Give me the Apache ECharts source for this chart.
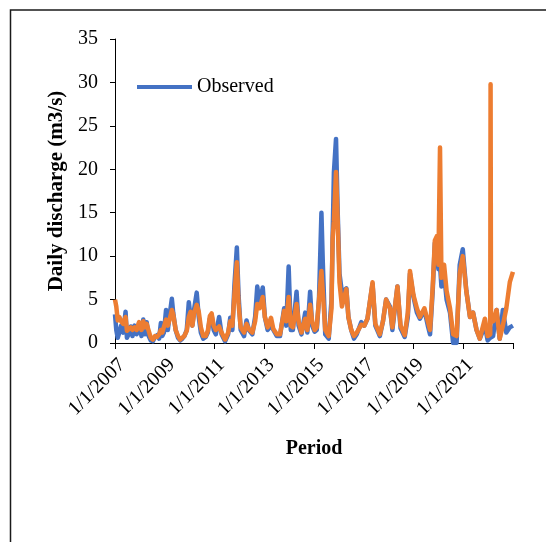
<!DOCTYPE html>
<html>
<head>
<meta charset="utf-8">
<script src="https://cdn.jsdelivr.net/npm/echarts@6/dist/echarts.min.js"></script>
<style>
  html, body { margin: 0; padding: 0; background: #fff; }
  #chart { width: 546px; height: 542px; }
</style>
</head>
<body>
<div id="chart"></div>
<script>
const dates = [
  '2007-01-01', '2007-01-20', '2007-02-10', '2007-03-05', '2007-04-01', '2007-05-01', '2007-06-05', '2007-06-25',
  '2007-07-20', '2007-08-20', '2007-09-15', '2007-10-15', '2007-11-15', '2007-12-20', '2008-01-25', '2008-02-20',
  '2008-03-15', '2008-04-10', '2008-05-10', '2008-06-10', '2008-07-10', '2008-08-10', '2008-09-10', '2008-10-10',
  '2008-11-05', '2008-11-25', '2008-12-20', '2009-01-20', '2009-02-15', '2009-03-10', '2009-04-15', '2009-05-05',
  '2009-06-10', '2009-07-15', '2009-08-15', '2009-09-15', '2009-10-15', '2009-11-20', '2009-12-20', '2010-01-15',
  '2010-02-10', '2010-03-10', '2010-04-15', '2010-05-15', '2010-06-15', '2010-07-20', '2010-08-25', '2010-09-25',
  '2010-10-25', '2010-11-20', '2010-12-20', '2011-01-20', '2011-03-10', '2011-04-15', '2011-06-05', '2011-07-20',
  '2011-08-20', '2011-09-20', '2011-10-20', '2011-11-25', '2011-12-20', '2012-01-20', '2012-03-10', '2012-04-15',
  '2012-05-20', '2012-07-10', '2012-08-20', '2012-09-20', '2012-10-25', '2012-12-10', '2013-01-10', '2013-02-20',
  '2013-04-10', '2013-05-15', '2013-07-05', '2013-08-20', '2013-10-20', '2013-11-20', '2013-12-25', '2014-01-25',
  '2014-02-25', '2014-04-20', '2014-05-20', '2014-07-01', '2014-08-25', '2014-09-25', '2014-11-05', '2014-12-05',
  '2015-01-10', '2015-02-10', '2015-03-15', '2015-04-20', '2015-05-10', '2015-06-15', '2015-08-05', '2015-09-15',
  '2015-10-01', '2015-10-20', '2015-11-20', '2015-12-15', '2016-01-10', '2016-02-15', '2016-04-20', '2016-05-20',
  '2016-07-01', '2016-08-10', '2016-09-20', '2016-11-25', '2017-01-10', '2017-02-25', '2017-05-10', '2017-06-20',
  '2017-08-25', '2017-10-10', '2017-11-25', '2018-01-20', '2018-02-25', '2018-05-10', '2018-06-25', '2018-08-25',
  '2018-10-10', '2018-11-10', '2019-01-01', '2019-02-20', '2019-04-05', '2019-06-10', '2019-07-30', '2019-09-01',
  '2019-10-10', '2019-11-10', '2019-12-10', '2020-01-01', '2020-01-25', '2020-02-15', '2020-03-25', '2020-05-01',
  '2020-06-20', '2020-08-05', '2020-09-25', '2020-11-10', '2020-12-25', '2021-02-15', '2021-04-10', '2021-05-25',
  '2021-07-15', '2021-09-01', '2021-11-15', '2021-12-25', '2022-02-01', '2022-02-06', '2022-02-12', '2022-03-15',
  '2022-05-05', '2022-06-20', '2022-08-05', '2022-09-25', '2022-11-15', '2022-12-31'
]

const observed = [
  3.3, 1.5, 0.6, 1.2, 2.0, 1.2, 3.6, 0.6,
  1.0, 1.9, 0.8, 2.0, 1.0, 2.3, 0.8, 2.7,
  1.0, 2.4, 0.8, 0.3, 0.2, 0.7, 0.9, 0.5,
  2.3, 0.8, 1.2, 3.8, 1.5, 3.0, 5.1, 3.5,
  1.5, 0.6, 0.3, 0.5, 0.8, 1.5, 4.7, 3.0,
  2.0, 4.0, 5.8, 3.0, 1.2, 0.5, 0.7, 1.2,
  2.8, 3.2, 1.5, 1.0, 3.0, 1.0, 0.2, 1.0,
  2.9, 1.5, 6.6, 11.0, 5.5, 1.5, 0.8, 2.6,
  1.5, 1.0, 3.0, 6.5, 4.5, 6.4, 3.0, 1.5,
  2.0, 1.5, 0.8, 0.8, 4.0, 2.0, 8.8, 1.5,
  1.5, 5.9, 2.0, 1.0, 3.5, 1.2, 5.9, 2.0,
  1.3, 1.5, 5.0, 15.0, 9.3, 1.0, 0.5, 5.0,
  12.0, 19.6, 23.5, 15.0, 8.0, 5.8, 6.3, 3.0,
  1.5, 0.5, 1.0, 2.4, 2.0, 2.8, 6.8, 2.0,
  0.8, 2.5, 5.0, 4.2, 1.5, 6.5, 1.7, 0.7,
  3.0, 8.0, 5.3, 3.5, 2.8, 3.8, 2.0, 1.0,
  6.0, 11.5, 12.0, 8.5, 9.0, 6.5, 8.0, 5.0,
  3.5, 0.0, 0.0, 9.0, 10.8, 6.0, 3.0, 3.5,
  1.5, 0.5, 2.0, 0.3, 0.6, 0.5, 0.6, 0.8,
  3.8, 0.5, 3.8, 1.2, 1.8, 2.0
]

const simulated = [
  5.0, 4.2, 2.6, 3.0, 2.5, 2.2, 3.0, 1.4,
  1.3, 1.8, 1.5, 1.8, 1.5, 2.4, 1.5, 2.5,
  1.8, 2.2, 1.4, 0.6, 0.4, 0.8, 0.7, 1.0,
  1.5, 1.2, 1.4, 2.7, 2.0, 2.6, 3.8, 3.3,
  1.5, 0.8, 0.4, 0.6, 0.8, 1.4, 3.0, 3.6,
  2.0, 3.5, 4.4, 3.6, 1.8, 0.8, 0.8, 1.4,
  3.1, 3.4, 2.0, 1.5, 1.9, 1.2, 0.4, 1.2,
  2.5, 2.0, 5.5, 9.3, 4.5, 1.8, 1.2, 2.2,
  1.6, 1.2, 2.5, 4.5, 4.0, 5.3, 3.0, 1.8,
  2.9, 1.6, 1.0, 1.0, 3.7, 2.5, 5.3, 2.0,
  1.8, 4.5, 2.5, 1.2, 2.8, 1.5, 4.4, 2.5,
  1.5, 1.8, 5.0, 8.3, 8.5, 1.5, 0.8, 4.0,
  12.0, 14.0, 19.7, 14.0, 7.0, 4.2, 6.2, 3.0,
  1.5, 0.8, 1.2, 2.1, 2.0, 2.8, 7.0, 2.2,
  1.0, 2.5, 5.0, 4.0, 1.8, 6.5, 2.0, 0.9,
  3.5, 8.3, 5.5, 4.0, 3.0, 4.0, 2.5, 1.5,
  6.5, 11.8, 12.3, 9.0, 22.5, 7.5, 9.0, 6.0,
  4.0, 1.0, 0.8, 8.0, 10.0, 6.0, 3.0, 3.5,
  1.5, 0.5, 2.8, 0.8, 1.0, 29.8, 3.0, 2.5,
  3.8, 0.5, 2.0, 4.0, 7.0, 8.2
]

const xTicks = [2007, 2009, 2011, 2013, 2015, 2017, 2019, 2021, 2023]

// date string -> decimal year, so the value axis can be laid out like Excel's date axis
function toYear(s) {
  const [y, m, d] = s.split('-').map(Number)
  const start = Date.UTC(y, 0, 1)
  const end = Date.UTC(y + 1, 0, 1)
  return y + (Date.UTC(y, m - 1, d) - start) / (end - start)
}

const chart = echarts.init(document.getElementById('chart'))
const font = 'Liberation Serif'

const option = {
  animation: false,
  textStyle: { fontFamily: font, color: '#000' },
  graphic: [{
    type: 'rect',
    shape: { x: 10.5, y: 10, width: 700, height: 700 },
    style: { fill: 'none', stroke: '#1a1a1a', lineWidth: 1.5 },
    silent: true
  }],
  grid: { left: 115, right: 33, top: 39, bottom: 199 },
  legend: {
    data: ['Observed'],
    left: 132,
    top: 72,
    icon: 'rect',
    itemWidth: 55,
    itemHeight: 4,
    itemGap: 4,
    textStyle: { fontFamily: font, fontSize: 20, color: '#000', padding: [0, 0, 0, 0] }
  },
  xAxis: {
    type: 'value',
    min: xTicks[0],
    max: xTicks[xTicks.length - 1],
    interval: 2,
    splitLine: { show: false },
    axisLine: { lineStyle: { color: '#000', width: 1 } },
    axisTick: { show: true, length: 6, inside: false, lineStyle: { color: '#000' } },
    axisLabel: {
      rotate: 45,
      margin: 12,
      verticalAlign: 'top',
      fontFamily: font,
      fontSize: 20,
      color: '#000',
      formatter: v => (v === 2023 ? '' : '1/1/' + v)
    },
    name: 'Period',
    nameLocation: 'middle',
    nameGap: 96,
    nameTextStyle: { fontFamily: font, fontSize: 20, fontWeight: 'bold', color: '#000' }
  },
  yAxis: {
    type: 'value',
    min: 0,
    max: 35,
    interval: 5,
    splitLine: { show: false },
    axisLine: { show: true, lineStyle: { color: '#000', width: 1 } },
    axisTick: { show: true, length: 5, lineStyle: { color: '#000' } },
    axisLabel: { margin: 17, fontFamily: font, fontSize: 20, color: '#000' },
    name: 'Daily discharge (m3/s)',
    nameLocation: 'middle',
    nameGap: 48,
    nameTextStyle: { fontFamily: font, fontSize: 21, fontWeight: 'bold', color: '#000' }
  },
  series: [
    {
      name: 'Observed',
      type: 'line',
      data: dates.map((d, i) => [toYear(d), observed[i]]),
      symbol: 'none',
      lineStyle: { color: '#4472C4', width: 4.5, join: 'round' },
      itemStyle: { color: '#4472C4' },
      z: 2
    },
    {
      name: 'Simulated',
      type: 'line',
      data: dates.map((d, i) => [toYear(d), simulated[i]]),
      symbol: 'none',
      lineStyle: { color: '#ED7D31', width: 4.5, join: 'round' },
      itemStyle: { color: '#ED7D31' },
      z: 3
    }
  ]
}

chart.setOption(option)
</script>
</body>
</html>
